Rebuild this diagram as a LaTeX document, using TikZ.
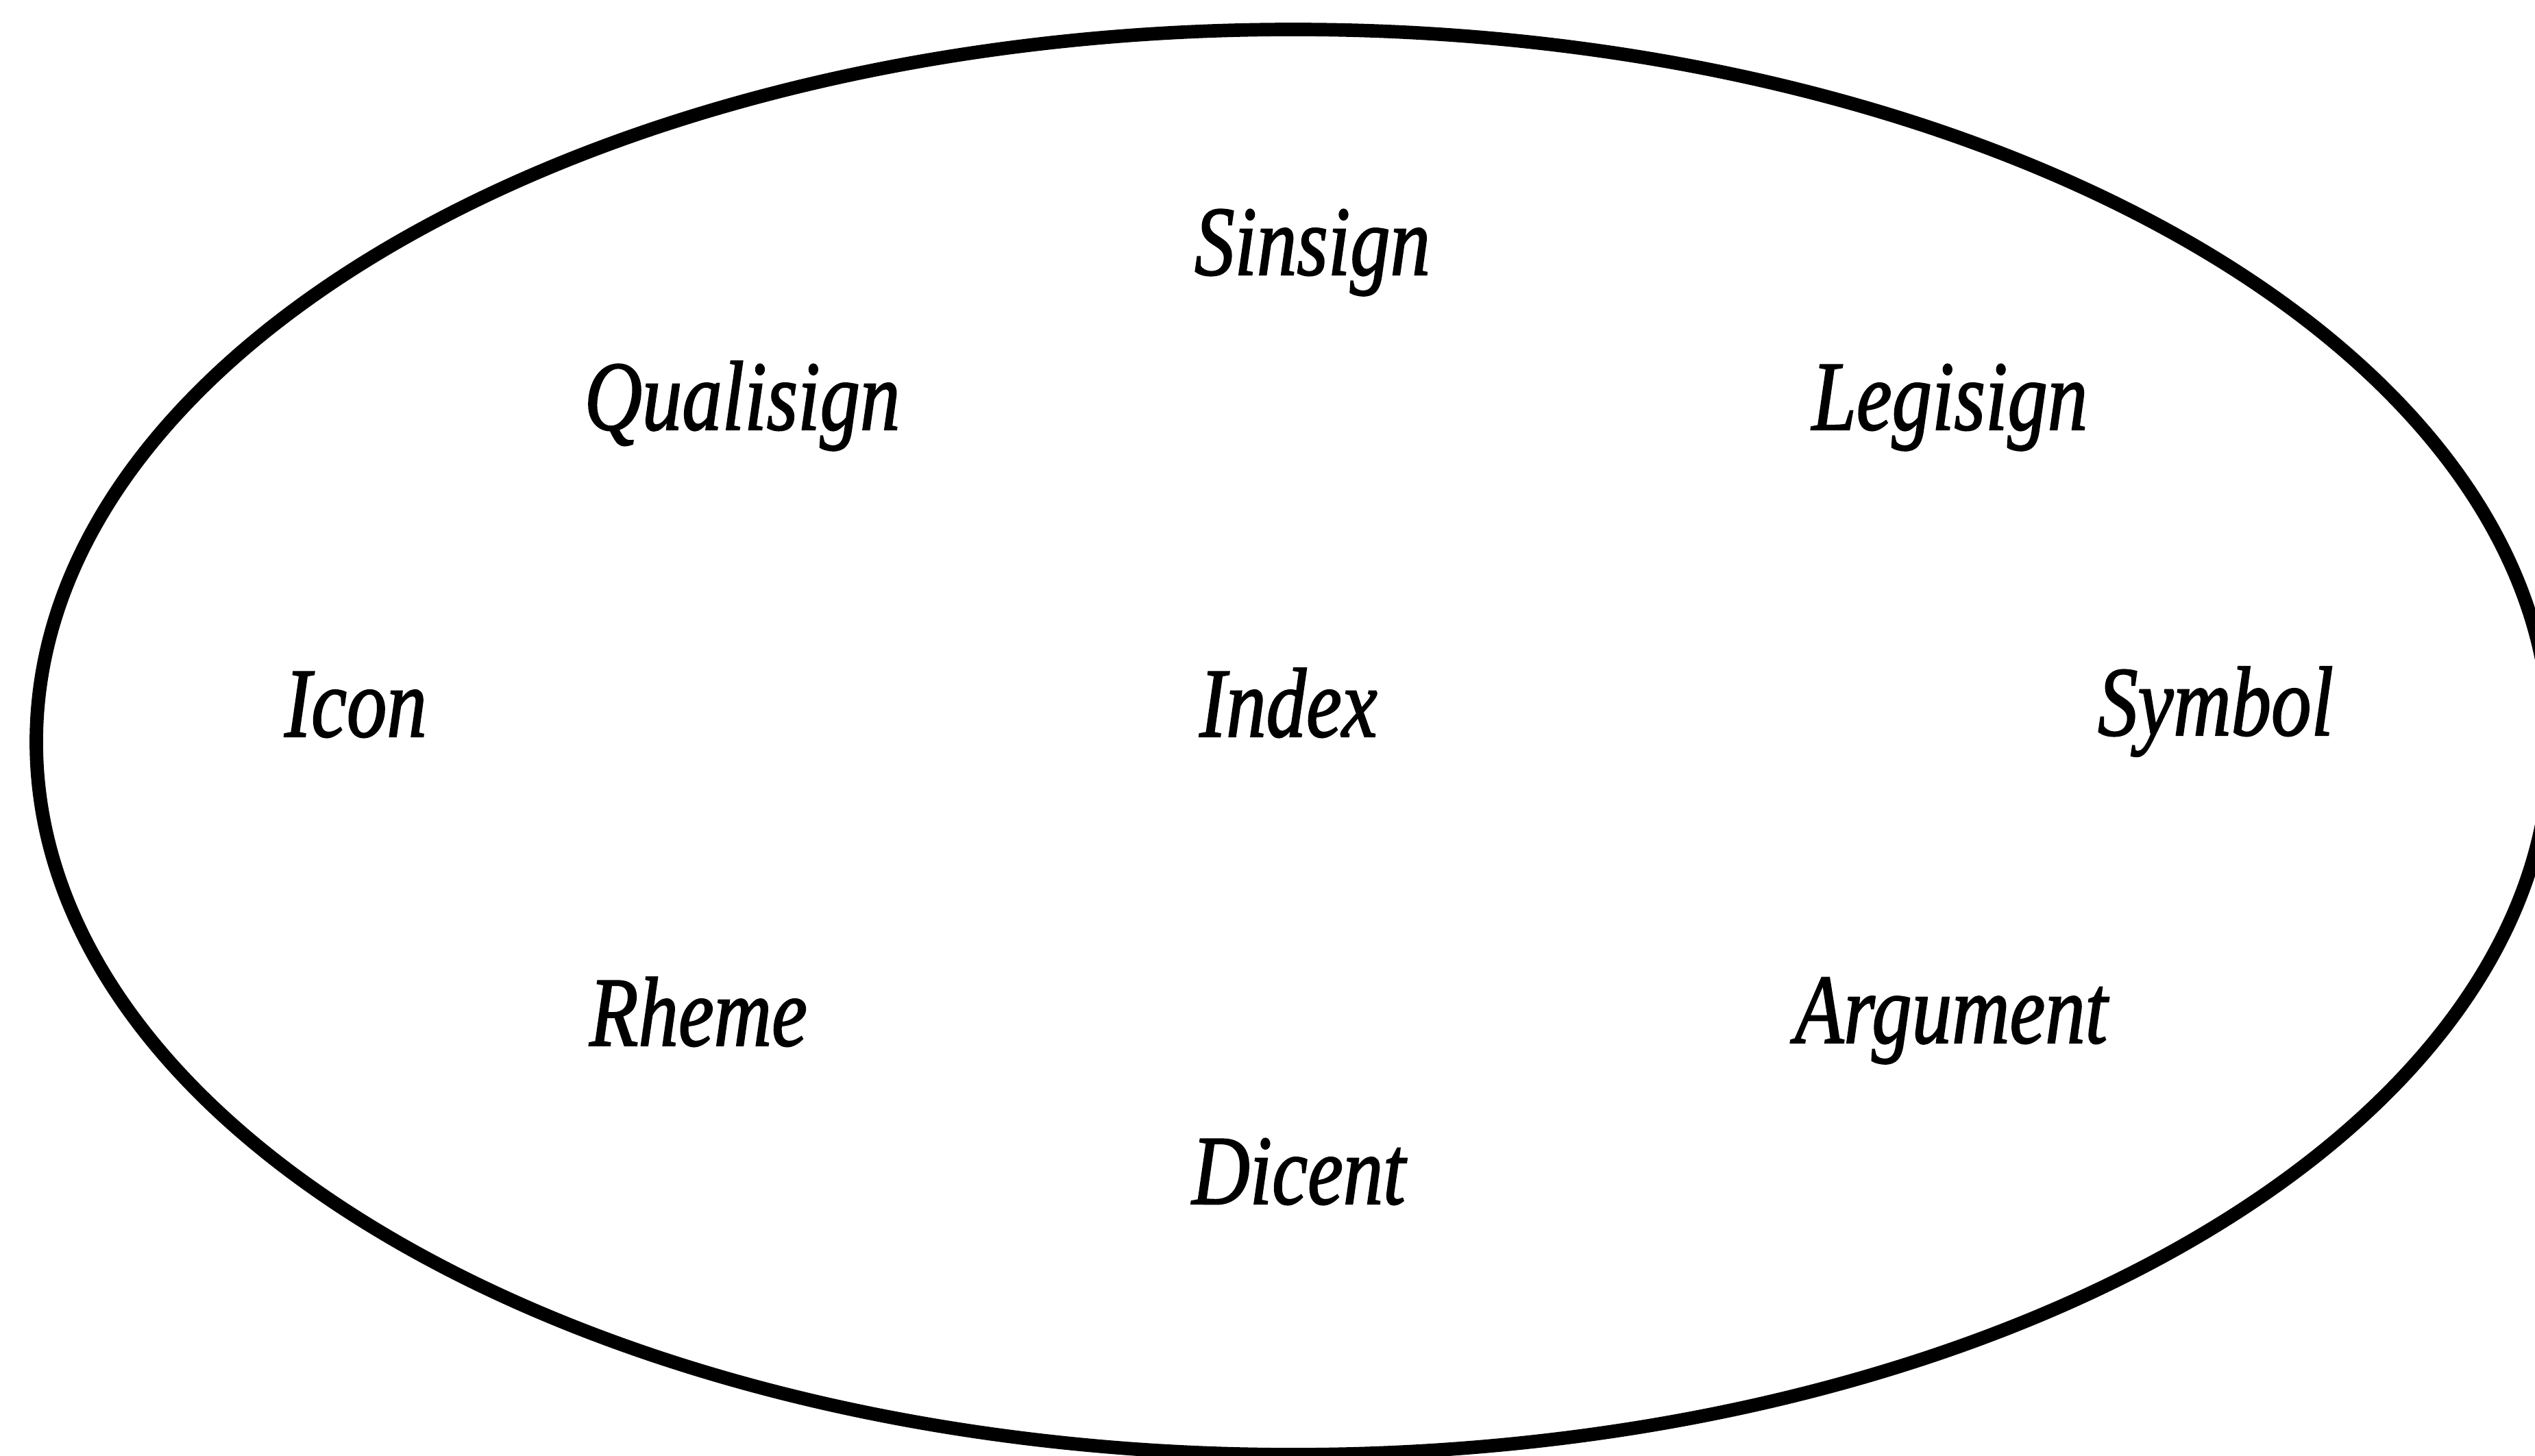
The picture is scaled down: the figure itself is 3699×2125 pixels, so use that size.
\documentclass[tikz,border=0pt]{standalone}
\usepackage{fontspec}
\setmainfont{Liberation Serif}
\newfontfamily\lblfont{Liberation Serif}[ItalicFeatures={FakeBold=1.6}]
\begin{document}
\begin{tikzpicture}[x=0.01cm,y=-0.01cm,
  lbl/.style={anchor=base,inner sep=0pt,
    font=\lblfont\fontsize{41pt}{50pt}\selectfont\itshape}]
\useasboundingbox (0,0) rectangle (3699,2125);
\fill[white] (0,0) rectangle (3699,2125);
\draw[line width=5.6pt] (1887,1083) ellipse [x radius=1834, y radius=1040];
\newcommand{\lab}[1]{\scalebox{0.81}[1]{#1}}
\node[lbl] (sinsign)   at (1915,401)  {\lab{Sinsign}};
\node[lbl] (qualisign) at (1083,627)  {\lab{Qualisign}};
\node[lbl] (legisign)  at (2845,627)  {\lab{Legisign}};
\node[lbl] (icon)      at (519,1075)  {\lab{Icon}};
\node[lbl] (index)     at (1880,1075) {\lab{Index}};
\node[lbl] (symbol)    at (3233,1073) {\lab{Symbol}};
\node[lbl] (rheme)     at (1019,1526) {\lab{Rheme}};
\node[lbl] (argument)  at (2847,1522) {\lab{Argument}};
\node[lbl] (dicent)    at (1895,1757) {\lab{Dicent}};
\end{tikzpicture}
\end{document}
